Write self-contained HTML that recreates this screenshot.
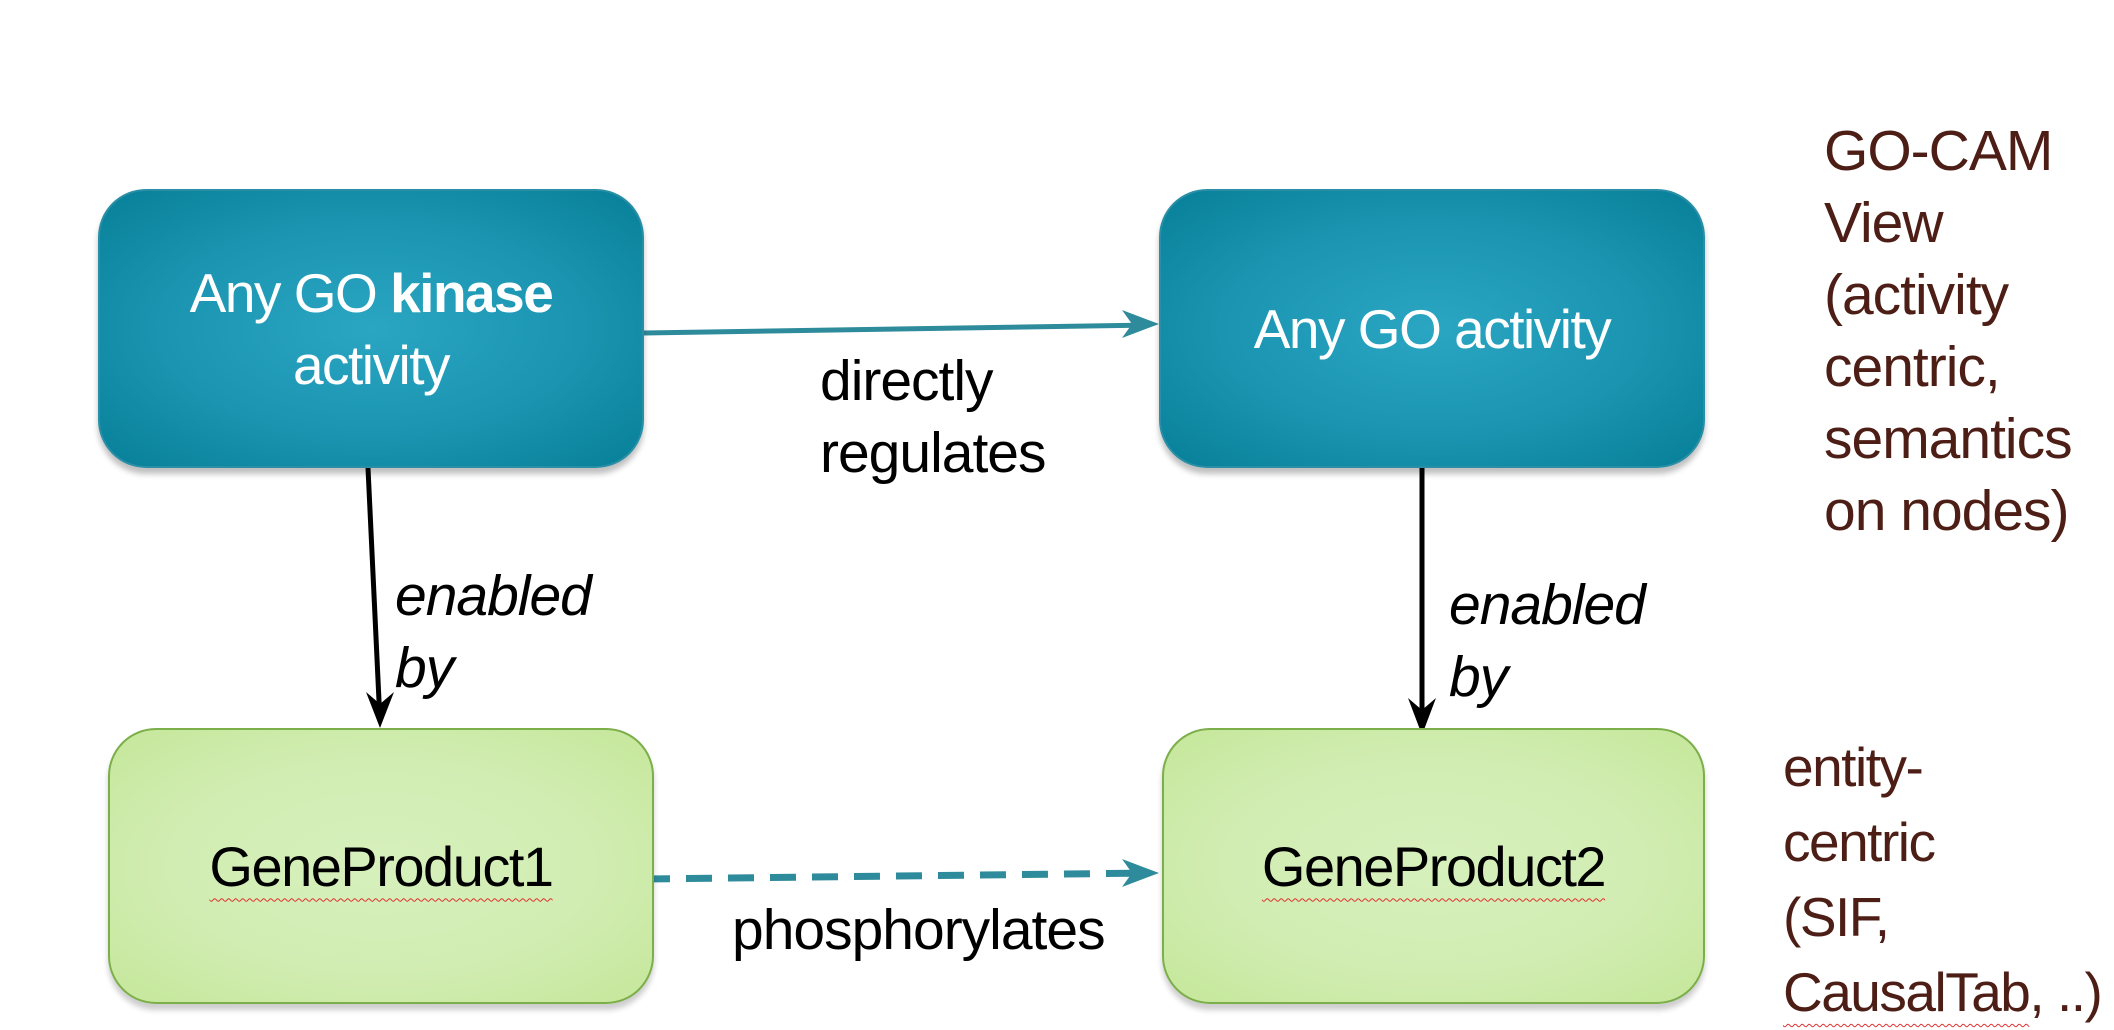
<!DOCTYPE html>
<html><head><meta charset="utf-8"><style>
body{margin:0;width:2114px;height:1022px;background:#fff;position:relative;overflow:hidden;font-family:"Liberation Sans",sans-serif;}
.box{position:absolute;border-radius:48px;box-sizing:border-box;display:flex;align-items:center;justify-content:center;text-align:center;}
.teal{background:radial-gradient(ellipse at center,#2ba6c2 0%,#1a94b0 55%,#077f98 100%);border:2px solid #2a8fa6;color:#fff;font-size:55px;line-height:72px;box-shadow:0 6px 6px rgba(0,0,0,.25);letter-spacing:-1.5px;}
.green{background:radial-gradient(ellipse at center,#d7f0bd 0%,#d1edb2 55%,#c5e79a 100%);border:2px solid #7cae4a;color:#000;font-size:56px;box-shadow:0 6px 6px rgba(0,0,0,.2);letter-spacing:-1.5px;}
.t{position:absolute;font-size:57px;line-height:72px;white-space:nowrap;letter-spacing:-1px;}
.br{color:#4d1e16;}
.sq{text-decoration:underline wavy #e03030 1px;text-underline-offset:12px;}
</style></head><body>
<svg width="2114" height="1022" style="position:absolute;left:0;top:0">
<line x1="644" y1="333" x2="1150" y2="325" stroke="#2e8b9b" stroke-width="5"/>
<path d="M1122,310 L1159,324 L1122,338 L1132,324 Z" fill="#2e8b9b"/>
<line x1="644" y1="879" x2="1150" y2="873" stroke="#2e8b9b" stroke-width="7" stroke-dasharray="26,16"/>
<path d="M1122,859 L1159,873 L1122,887 L1132,873 Z" fill="#2e8b9b"/>
<line x1="368" y1="468" x2="380" y2="722" stroke="#000" stroke-width="5"/>
<path d="M366,692 L380,728 L394,692 L380,704 Z" fill="#000"/>
<line x1="1422" y1="468" x2="1422" y2="730" stroke="#000" stroke-width="5"/>
<path d="M1408,698 L1422,735 L1436,698 L1422,710 Z" fill="#000"/>
</svg>
<div class="box teal" style="left:98px;top:189px;width:546px;height:279px;"><div>Any GO <b>kinase</b><br>activity</div></div>
<div class="box teal" style="left:1159px;top:189px;width:546px;height:279px;"><div>Any GO activity</div></div>
<div class="box green" style="left:108px;top:728px;width:546px;height:276px;"><span class="sq">GeneProduct1</span></div>
<div class="box green" style="left:1162px;top:728px;width:543px;height:276px;"><span class="sq">GeneProduct2</span></div>
<div class="t" style="left:820px;top:345px;">directly<br>regulates</div>
<div class="t" style="left:395px;top:560px;font-style:italic;">enabled<br>by</div>
<div class="t" style="left:1449px;top:569px;font-style:italic;">enabled<br>by</div>
<div class="t" style="left:732px;top:894px;">phosphorylates</div>
<div class="t br" style="left:1824px;top:115px;">GO-CAM<br>View<br>(activity<br>centric,<br>semantics<br>on nodes)</div>
<div class="t br" style="left:1783px;top:730px;line-height:75px;font-size:55px;letter-spacing:-1.5px;">entity-<br>centric<br>(SIF,<br><span class="sq">CausalTab</span>, ..)</div>
</body></html>
